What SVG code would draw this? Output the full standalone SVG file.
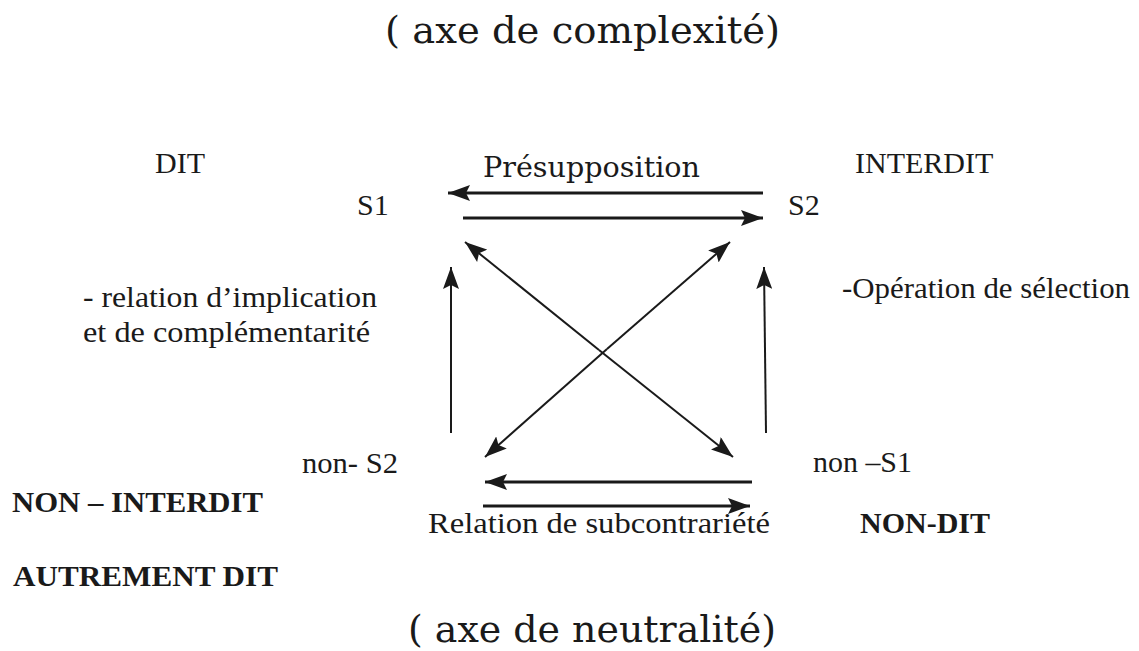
<svg xmlns="http://www.w3.org/2000/svg" width="1139" height="651" viewBox="0 0 1139 651">
  <defs>
    <marker id="head" viewBox="0 0 22 16" refX="22" refY="8" markerWidth="22" markerHeight="16" markerUnits="userSpaceOnUse" orient="auto">
      <path d="M0,0 L22,8 L0,16 L4,8 Z" fill="#1a1a1a"/>
    </marker>
  </defs>
  <style>
    .title { font-family: "DejaVu Serif", "Liberation Serif", serif; font-size: 38px; fill: #1a1a1a; }
    .cent { font-family: "DejaVu Serif", "Liberation Serif", serif; font-size: 27px; fill: #1a1a1a; }
    .lbl { font-family: "Liberation Serif", "Times New Roman", serif; font-size: 30px; fill: #1a1a1a; }
    .note { font-family: "Liberation Serif", "Times New Roman", serif; font-size: 30px; fill: #1a1a1a; }
    .bold { font-family: "Liberation Serif", "Times New Roman", serif; font-size: 30px; font-weight: bold; fill: #1a1a1a; }
    .edge { stroke: #1a1a1a; stroke-width: 2; fill: none; marker-end: url(#head); }
    .edge-thick { stroke: #1a1a1a; stroke-width: 3; fill: none; marker-end: url(#head); }
  </style>
  <rect width="1139" height="651" fill="#ffffff"/>

  <!-- axis titles -->
  <text class="title" x="385" y="43" textLength="395" lengthAdjust="spacingAndGlyphs">( axe de complexité)</text>
  <text class="title" x="408" y="642" textLength="368" lengthAdjust="spacingAndGlyphs">( axe de neutralité)</text>

  <!-- square corners -->
  <g id="s1">
    <text class="lbl" x="357" y="215">S1</text>
  </g>
  <g id="s2">
    <text class="lbl" x="788" y="215">S2</text>
  </g>
  <g id="non-s2">
    <text class="lbl" x="302" y="473" textLength="96" lengthAdjust="spacingAndGlyphs">non- S2</text>
  </g>
  <g id="non-s1">
    <text class="lbl" x="813" y="472" textLength="99" lengthAdjust="spacingAndGlyphs">non –S1</text>
  </g>

  <!-- outer labels -->
  <g id="dit">
    <text class="lbl" x="155" y="173">DIT</text>
  </g>
  <g id="interdit">
    <text class="lbl" x="855" y="173">INTERDIT</text>
  </g>
  <g id="non-interdit">
    <text class="bold" x="12" y="512" textLength="251" lengthAdjust="spacingAndGlyphs">NON – INTERDIT</text>
  </g>
  <g id="autrement-dit">
    <text class="bold" x="13" y="586" textLength="265" lengthAdjust="spacingAndGlyphs">AUTREMENT DIT</text>
  </g>
  <g id="non-dit">
    <text class="bold" x="860" y="533" textLength="130" lengthAdjust="spacingAndGlyphs">NON-DIT</text>
  </g>

  <!-- relation labels -->
  <g id="presupposition">
    <text class="cent" x="483" y="177" textLength="217" lengthAdjust="spacingAndGlyphs">Présupposition</text>
  </g>
  <g id="subcontrariete">
    <text class="note" x="428" y="533" textLength="342" lengthAdjust="spacingAndGlyphs">Relation de subcontrariété</text>
  </g>
  <g id="implication">
    <text class="note" x="83" y="307" textLength="294" lengthAdjust="spacingAndGlyphs">- relation d’implication</text>
    <text class="note" x="83" y="342" textLength="287" lengthAdjust="spacingAndGlyphs">et de complémentarité</text>
  </g>
  <g id="selection">
    <text class="note" x="842" y="298" textLength="288" lengthAdjust="spacingAndGlyphs">-Opération de sélection</text>
  </g>

  <!-- connectors -->
  <g id="connectors">
    <line class="edge-thick" x1="763" y1="193" x2="448" y2="193"/>
    <line class="edge-thick" x1="463" y1="218" x2="763" y2="218"/>
    <line class="edge-thick" x1="752" y1="482" x2="485" y2="482"/>
    <line class="edge-thick" x1="483" y1="506" x2="750" y2="506"/>
    <line class="edge" x1="451" y1="433" x2="451" y2="267"/>
    <line class="edge" x1="766" y1="433" x2="764" y2="267"/>
    <line class="edge" x1="599" y1="350" x2="465" y2="242"/>
    <line class="edge" x1="599" y1="350" x2="733" y2="457"/>
    <line class="edge" x1="607" y1="349" x2="730" y2="242"/>
    <line class="edge" x1="607" y1="349" x2="485" y2="457"/>
  </g>
</svg>
